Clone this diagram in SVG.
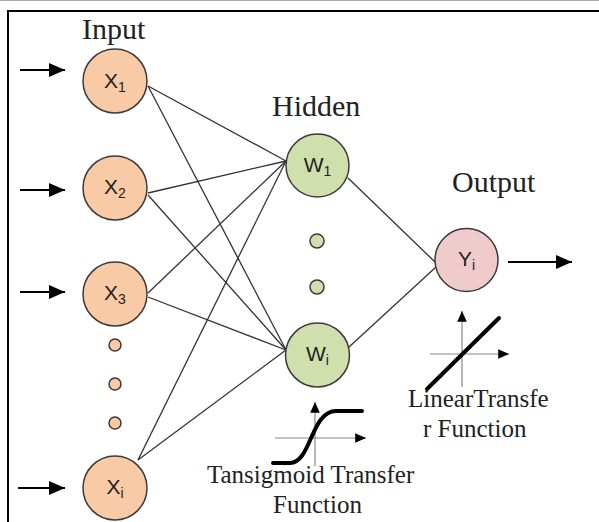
<svg xmlns="http://www.w3.org/2000/svg" width="599" height="522" viewBox="0 0 599 522">
<style>
.in{fill:#F8CBA6;stroke:#3a3a3a;stroke-width:1.5}
.hid{fill:#D0E0AD;stroke:#3a3a3a;stroke-width:1.5}
.out{fill:#F0CBCB;stroke:#3a3a3a;stroke-width:1.5}
.lbl{font-family:"Liberation Sans",Arial,sans-serif;font-size:21px;fill:#222}
.sub{font-size:14px}
.title{font-family:"Liberation Serif","Times New Roman",serif;font-size:30px;fill:#222}
.cap{font-family:"Liberation Serif","Times New Roman",serif;font-size:25px;fill:#222}
.conn line{stroke:#333;stroke-width:1.3}
.arr{stroke:#000;stroke-width:2;marker-end:url(#ah)}
.axis{stroke:#888;stroke-width:1.2;marker-end:url(#ax)}
.curve{fill:none;stroke:#000;stroke-width:4;stroke-linecap:round}
</style>
<defs>
<marker id="ah" markerWidth="8" markerHeight="7" refX="8" refY="3.5" orient="auto" markerUnits="strokeWidth">
<path d="M0,0 L8,3.5 L0,7 Z" fill="#000"/>
</marker>
<marker id="ax" markerWidth="9" markerHeight="8" refX="9" refY="4" orient="auto" markerUnits="strokeWidth">
<path d="M0,0 L9,4 L0,8 Z" fill="#000"/>
</marker>
</defs>
<rect width="599" height="522" fill="#fff"/>
<line x1="0" y1="0.5" x2="599" y2="0.5" stroke="#aaa" stroke-width="1"/>
<line x1="7" y1="11" x2="599" y2="11" stroke="#000" stroke-width="2"/>
<line x1="8" y1="10" x2="8" y2="522" stroke="#000" stroke-width="2"/>

<g id="connectors" class="conn">
<line x1="148" y1="86" x2="286" y2="161"/>
<line x1="148" y1="86" x2="286" y2="350"/>
<line x1="148" y1="193" x2="286" y2="161"/>
<line x1="148" y1="195" x2="286" y2="350"/>
<line x1="148" y1="293" x2="286" y2="161"/>
<line x1="148" y1="297" x2="286" y2="350"/>
<line x1="138" y1="460" x2="286" y2="161"/>
<line x1="138" y1="460" x2="286" y2="350"/>
<line x1="348" y1="178" x2="435" y2="262"/>
<line x1="349" y1="347" x2="436" y2="267"/>
</g>

<g id="arrows">
<line class="arr" x1="20" y1="70" x2="65" y2="70"/>
<line class="arr" x1="20" y1="190" x2="65" y2="190"/>
<line class="arr" x1="20" y1="292" x2="65" y2="292"/>
<line class="arr" x1="18" y1="488" x2="65" y2="488"/>
<line class="arr" x1="508" y1="262" x2="572" y2="262"/>
</g>

<text class="title" x="82" y="39">Input</text>
<text class="title" x="272" y="116">Hidden</text>
<text class="title" x="452" y="192">Output</text>

<g id="x1"><circle class="in" cx="115" cy="81" r="32"/><text class="lbl" x="115" y="88" text-anchor="middle">X<tspan class="sub" dy="4">1</tspan></text></g>
<g id="x2"><circle class="in" cx="115" cy="188" r="32"/><text class="lbl" x="115" y="194" text-anchor="middle">X<tspan class="sub" dy="4">2</tspan></text></g>
<g id="x3"><circle class="in" cx="115" cy="294" r="32"/><text class="lbl" x="115" y="300" text-anchor="middle">X<tspan class="sub" dy="4">3</tspan></text></g>
<g id="xdots">
<circle class="in" cx="115" cy="345" r="6"/>
<circle class="in" cx="115" cy="384" r="6"/>
<circle class="in" cx="115" cy="423" r="6"/>
</g>
<g id="xi"><circle class="in" cx="115" cy="488" r="32"/><text class="lbl" x="115" y="494" text-anchor="middle">X<tspan class="sub" dy="4">i</tspan></text></g>

<g id="w1"><circle class="hid" cx="317.5" cy="165.5" r="31.5"/><text class="lbl" x="317.5" y="172" text-anchor="middle">W<tspan class="sub" dy="4">1</tspan></text></g>
<g id="wdots">
<circle class="hid" cx="317" cy="241" r="7"/>
<circle class="hid" cx="317" cy="287" r="7"/>
</g>
<g id="wi"><circle class="hid" cx="317.5" cy="355" r="32"/><text class="lbl" x="317.5" y="361" text-anchor="middle">W<tspan class="sub" dy="4">i</tspan></text></g>

<g id="yi"><circle class="out" cx="466.5" cy="260" r="31.5"/><text class="lbl" x="466.5" y="266" text-anchor="middle">Y<tspan class="sub" dy="4">i</tspan></text></g>

<g id="tansig">
<line class="axis" x1="315" y1="466" x2="315" y2="402"/>
<line class="axis" x1="275" y1="438" x2="366" y2="438"/>
<path class="curve" d="M273,463 H290 C311,463 311,411 336,411 H362"/>
<text class="cap" x="207" y="483">Tansigmoid Transfer</text>
<text class="cap" x="273" y="513">Function</text>
</g>

<g id="linear">
<line class="axis" x1="462" y1="387" x2="462" y2="311"/>
<line class="axis" x1="430" y1="354" x2="509" y2="354"/>
<line class="curve" x1="427" y1="389" x2="499" y2="318"/>
<text class="cap" x="408" y="407">LinearTransfe</text>
<text class="cap" x="423" y="437">r Function</text>
</g>
</svg>
